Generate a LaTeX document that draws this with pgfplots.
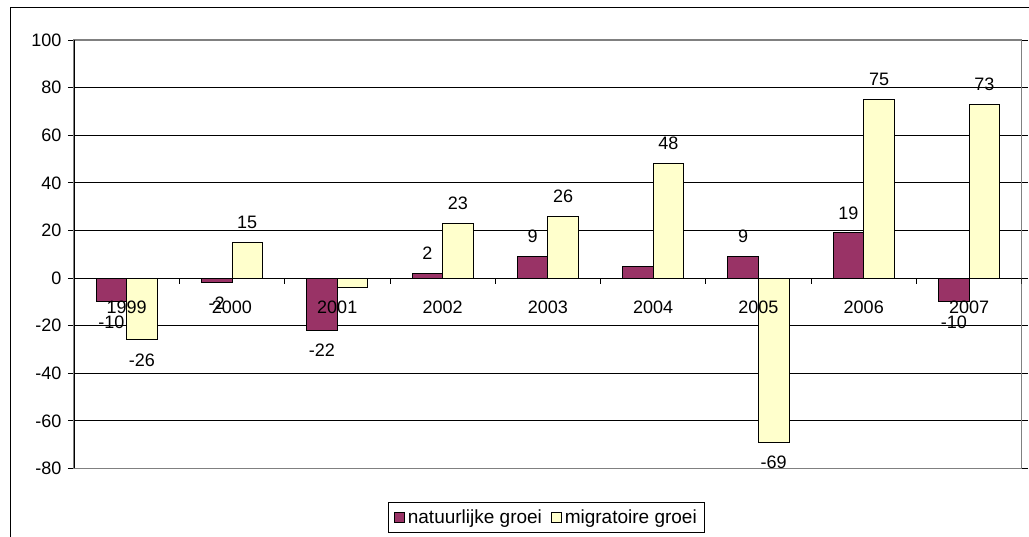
\documentclass[border=0pt]{standalone}
\usepackage{pgfplots}
\pgfplotsset{compat=1.18}
\usepackage{pgfplotstable}
\usepackage{fontspec}
\setmainfont{Liberation Sans}

\definecolor{natcol}{HTML}{993366}
\definecolor{migcol}{HTML}{FFFFCC}
\definecolor{framegray}{HTML}{808080}

% x, jaar, natuurlijke groei (+ label), migratoire groei (+ label)
\pgfplotstableread{
x year nat natlab mig miglab
0 1999 -10 -10 -26 -26
1 2000 -2 -2 15 15
2 2001 -22 -22 -4 {}
3 2002 2 2 23 23
4 2003 9 9 26 26
5 2004 5 {} 48 48
6 2005 9 9 -69 -69
7 2006 19 19 75 75
8 2007 -10 -10 73 73
}\groeidata

\newcommand{\chartfont}{\fontsize{18}{21}\selectfont}
% year label under the zero line, drawn over the bars
\newcommand{\yearlabel}[2]{\node[font=\chartfont, anchor=center] at ([yshift=-29pt]axis cs:#1,0) {#2};}

\begin{document}
\begin{tikzpicture}
\draw[black, line width=1.4pt] (10.5pt,0pt) -- (10.5pt,529.5pt) -- (1029pt,529.5pt);

\begin{axis}[
    at={(74pt,68.5pt)}, anchor=south west,
    scale only axis,
    width=947.7pt, height=428.5pt,
    xmin=-0.5, xmax=8.5,
    ymin=-80, ymax=100,
    ytick={-80,-60,...,100},
    xtick=\empty,
    ytick style={black, line width=0.8pt},
    tick align=outside,
    major tick length=6pt,
    ymajorgrids,
    grid style={black, line width=0.8pt},
    axis line style={draw=framegray, line width=1.4pt},
    /pgf/number format/assume math mode=true,
    tick label style={font=\chartfont},
    yticklabel style={xshift=-3pt},
    ybar, bar width=0.29,
    legend style={at={(0.4985,-0.1145)}, anchor=center, draw=black, line width=0.9pt,
        font=\fontsize{19}{22}\selectfont, legend columns=2, inner ysep=5pt, inner xsep=6pt,
        /tikz/every even column/.append style={column sep=7pt},
        /tikz/every odd column/.append style={column sep=1pt}},
    legend image code/.code={\draw[#1, line width=0.8pt] (0pt,-5pt) rectangle (10pt,5pt);},
    nodes near coords,
    point meta=explicit symbolic,
    visualization depends on={y \as \rawv},
    every node near coord/.append style={anchor=center, font=\chartfont, line width=0pt,
        yshift={\rawv<0 ? -20 : 20}},
]
\addplot[fill=natcol, draw=black, line width=0.9pt, bar shift=-0.145]
    table[x=x, y=nat, meta=natlab] {\groeidata};
\addplot[fill=migcol, draw=black, line width=0.9pt, bar shift=0.145]
    table[x=x, y=mig, meta=miglab] {\groeidata};
\legend{natuurlijke groei, migratoire groei}

\draw[black, line width=0.9pt] (rel axis cs:0,0) -- (rel axis cs:0,1);
\pgfplotsinvokeforeach{-0.5,0.5,...,8.5}{
    \draw[black, line width=0.8pt] (axis cs:#1,0) -- ++(0pt,-6pt);
}
\yearlabel{0}{1999}
\yearlabel{1}{2000}
\yearlabel{2}{2001}
\yearlabel{3}{2002}
\yearlabel{4}{2003}
\yearlabel{5}{2004}
\yearlabel{6}{2005}
\yearlabel{7}{2006}
\yearlabel{8}{2007}
\end{axis}

\pgfresetboundingbox
\path[use as bounding box] (0pt,0pt) rectangle (1029pt,537pt);
\end{tikzpicture}
\end{document}
